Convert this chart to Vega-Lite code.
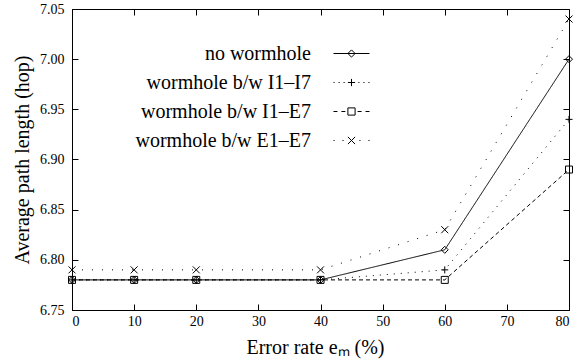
{
  "$schema": "https://vega.github.io/schema/vega-lite/v6.json",
  "width": 497,
  "height": 301,
  "autosize": {"type": "none"},
  "padding": {"left": 72, "top": 9, "right": 18, "bottom": 52},
  "config": {
    "font": "Liberation Serif",
    "view": {"stroke": "black", "strokeWidth": 1},
    "axis": {
      "domainColor": "black",
      "tickColor": "black",
      "labelColor": "black",
      "titleColor": "black",
      "labelFont": "Liberation Serif",
      "titleFont": "Liberation Serif",
      "titleFontWeight": "normal",
      "grid": false
    },
    "legend": {"labelFont": "Liberation Serif"}
  },
  "data": {
    "values": [
      {"rate": 0, "len": 6.78, "series": "no wormhole"},
      {"rate": 10, "len": 6.78, "series": "no wormhole"},
      {"rate": 20, "len": 6.78, "series": "no wormhole"},
      {"rate": 40, "len": 6.78, "series": "no wormhole"},
      {"rate": 60, "len": 6.81, "series": "no wormhole"},
      {"rate": 80, "len": 7.00, "series": "no wormhole"},
      {"rate": 0, "len": 6.78, "series": "wormhole b/w I1–I7"},
      {"rate": 10, "len": 6.78, "series": "wormhole b/w I1–I7"},
      {"rate": 20, "len": 6.78, "series": "wormhole b/w I1–I7"},
      {"rate": 40, "len": 6.78, "series": "wormhole b/w I1–I7"},
      {"rate": 60, "len": 6.79, "series": "wormhole b/w I1–I7"},
      {"rate": 80, "len": 6.94, "series": "wormhole b/w I1–I7"},
      {"rate": 0, "len": 6.78, "series": "wormhole b/w I1–E7"},
      {"rate": 10, "len": 6.78, "series": "wormhole b/w I1–E7"},
      {"rate": 20, "len": 6.78, "series": "wormhole b/w I1–E7"},
      {"rate": 40, "len": 6.78, "series": "wormhole b/w I1–E7"},
      {"rate": 60, "len": 6.78, "series": "wormhole b/w I1–E7"},
      {"rate": 80, "len": 6.89, "series": "wormhole b/w I1–E7"},
      {"rate": 0, "len": 6.79, "series": "wormhole b/w E1–E7"},
      {"rate": 10, "len": 6.79, "series": "wormhole b/w E1–E7"},
      {"rate": 20, "len": 6.79, "series": "wormhole b/w E1–E7"},
      {"rate": 40, "len": 6.79, "series": "wormhole b/w E1–E7"},
      {"rate": 60, "len": 6.83, "series": "wormhole b/w E1–E7"},
      {"rate": 80, "len": 7.04, "series": "wormhole b/w E1–E7"}
    ]
  },
  "layer": [
    {
      "mark": {"type": "line", "color": "black", "strokeWidth": 1},
      "encoding": {
        "x": {"field": "rate", "type": "quantitative",
          "scale": {"domain": [0, 80], "nice": false, "zero": false},
          "axis": {"orient": "bottom", "values": [0,10,20,30,40,50,60,70,80], "format": "d",
            "title": "Error rate eₘ  (%)", "titleFontSize": 20, "titlePadding": 9, "titleX": 243,
            "labelFontSize": 14, "tickSize": -6, "labelPadding": 10}},
        "y": {"field": "len", "type": "quantitative",
          "scale": {"domain": [6.75, 7.05], "nice": false, "zero": false},
          "axis": {"orient": "left", "values": [6.75,6.8,6.85,6.9,6.95,7.0,7.05], "format": ".2f",
            "title": "Average path length (hop)", "titleFontSize": 20, "titlePadding": 7,
            "labelFontSize": 14, "tickSize": -6, "labelPadding": 14}},
        "strokeDash": {"field": "series", "type": "nominal",
          "scale": {"domain": ["no wormhole", "wormhole b/w I1–I7", "wormhole b/w I1–E7", "wormhole b/w E1–E7"],
            "range": [[1, 0], [1, 6], [4, 3], [1, 9]]},
          "legend": null}
      }
    },
    {
      "mark": {"type": "point", "filled": false, "color": "black", "strokeWidth": 1, "size": 49, "opacity": 1},
      "encoding": {
        "x": {"field": "rate", "type": "quantitative",
          "axis": {"orient": "top", "values": [0,10,20,30,40,50,60,70,80], "labels": false, "title": null, "tickSize": -6, "domain": false}},
        "y": {"field": "len", "type": "quantitative",
          "axis": {"orient": "right", "values": [6.75,6.8,6.85,6.9,6.95,7.0,7.05], "labels": false, "title": null, "tickSize": -6, "domain": false}},
        "shape": {"field": "series", "type": "nominal",
          "scale": {"domain": ["no wormhole", "wormhole b/w I1–I7", "wormhole b/w I1–E7", "wormhole b/w E1–E7"],
            "range": ["M0,-1L1,0L0,1L-1,0Z", "M-1,0H1M0,-1V1", "M-1,-1H1V1H-1Z", "M-1,-1L1,1M-1,1L1,-1"]},
          "legend": null}
      }
    },
    {
      "mark": {"type": "point", "filled": false, "color": "black", "strokeWidth": 1, "size": 1296, "opacity": 0},
      "encoding": {
        "x": {"field": "rate", "type": "quantitative", "axis": null},
        "y": {"field": "len", "type": "quantitative", "axis": null},
        "shape": {"field": "series", "type": "nominal",
          "scale": {"domain": ["no wormhole", "wormhole b/w I1–I7", "wormhole b/w I1–E7", "wormhole b/w E1–E7"],
            "range": [
              "M-1,0H1M0,-0.2L0.2,0L0,0.2L-0.2,0Z",
              "M-1,0h0.06M-0.72,0h0.06M-0.44,0h0.06M0.38,0h0.06M0.66,0h0.06M0.94,0h0.06M-0.2,0H0.2M0,-0.2V0.2",
              "M-1,0H-0.78M-0.56,0H-0.34M0.34,0H0.56M0.78,0H1M-0.2,-0.2H0.2V0.2H-0.2Z",
              "M-1,0h0.06M-0.5,0h0.06M0.44,0h0.06M0.94,0h0.06M-0.2,-0.2L0.2,0.2M-0.2,0.2L0.2,-0.2"
            ]},
          "legend": {
            "orient": "none", "legendX": 261, "legendY": 26, "padding": 0,
            "title": null, "symbolOpacity": 1, "symbolStrokeColor": "black", "symbolStrokeWidth": 1,
            "symbolSize": 1296, "labelAlign": "right", "labelOffset": -59, "labelFontSize": 20,
            "labelFont": "Liberation Serif", "labelColor": "black", "labelLimit": 300, "rowPadding": -11
          }}
      }
    }
  ],
  "resolve": {"scale": {"shape": "independent"}, "legend": {"shape": "independent"}}
}
